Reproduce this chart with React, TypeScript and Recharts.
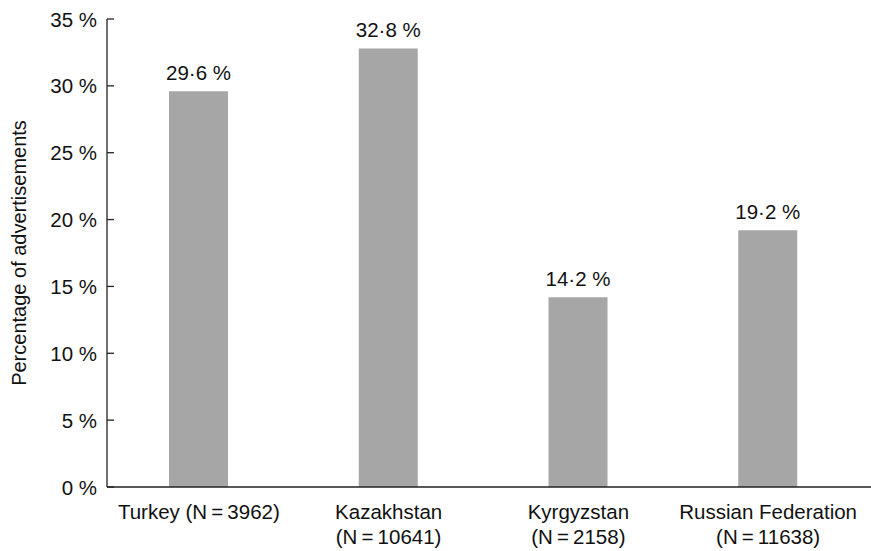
import React from 'react';
import { BarChart, Bar, XAxis, YAxis, LabelList } from 'recharts';

const categories = ['Turkey', 'Kazakhstan', 'Kyrgyzstan', 'Russian Federation'];
const sampleSizes = ['3962', '10641', '2158', '11638'];
const labelLines = [
  ['Turkey (N\u2009=\u20093962)'],
  ['Kazakhstan', '(N\u2009=\u200910641)'],
  ['Kyrgyzstan', '(N\u2009=\u20092158)'],
  ['Russian Federation', '(N\u2009=\u200911638)'],
];
const percentages = [29.6, 32.8, 14.2, 19.2];
const yTicks = [0, 5, 10, 15, 20, 25, 30, 35];

const data = categories.map((c, i) => ({
  name: c,
  n: sampleSizes[i],
  lines: labelLines[i],
  value: percentages[i],
}));

const FONT = '"Liberation Sans", Arial, sans-serif';
const FS = 20.5;

const fmt = (v: number) => v.toFixed(1).replace('.', '\u00B7') + ' %';

const YTick = (props: any) => {
  const { x, y, payload } = props;
  return (
    <g>
      <line x1={x + 10} x2={x + 17} y1={y} y2={y} stroke="#222" strokeWidth={1.3} />
      <text x={x} y={y} dy={7.5} textAnchor="end" fontFamily={FONT} fontSize={FS} fill="#111">
        {payload.value} %
      </text>
    </g>
  );
};

const XTick = (props: any) => {
  const { x, y, index } = props;
  const lines = labelLines[index] || [];
  return (
    <g>
      {lines.map((l: string, i: number) => (
        <text key={i} x={x} y={y + 24 + i * 25} textAnchor="middle" fontFamily={FONT} fontSize={FS} fill="#111">
          {l}
        </text>
      ))}
    </g>
  );
};

export default function App() {
  return (
    <div style={{ position: 'absolute', left: 0, top: 0, background: '#fff' }}>
      <BarChart
        width={871}
        height={551}
        data={data}
        margin={{ top: 19, right: 0, bottom: 0, left: 0 }}
      >
        <XAxis
          dataKey="name"
          tickLine={false}
          tick={<XTick />}
          axisLine={{ stroke: '#222', strokeWidth: 1.3 }}
          padding={{ left: -3, right: 8 }}
          interval={0}
          height={64}
        />
        <YAxis
          width={107}
          domain={[0, 35]}
          ticks={yTicks}
          tickLine={false}
          tickSize={0}
          tickMargin={10}
          tick={<YTick />}
          axisLine={{ stroke: '#222', strokeWidth: 1.3 }}
          interval={0}
          label={{
            value: 'Percentage of advertisements',
            angle: -90,
            position: 'center',
            dx: -35,
            style: { fontFamily: FONT, fontSize: 20, fill: '#111' },
          }}
        />
        <Bar dataKey="value" fill="#a6a6a6" barSize={59} isAnimationActive={false}>
          <LabelList
            dataKey="value"
            position="top"
            offset={11}
            formatter={(v: any) => fmt(Number(v))}
            style={{ fontFamily: FONT, fontSize: FS, fill: '#111' }}
          />
        </Bar>
      </BarChart>
    </div>
  );
}
